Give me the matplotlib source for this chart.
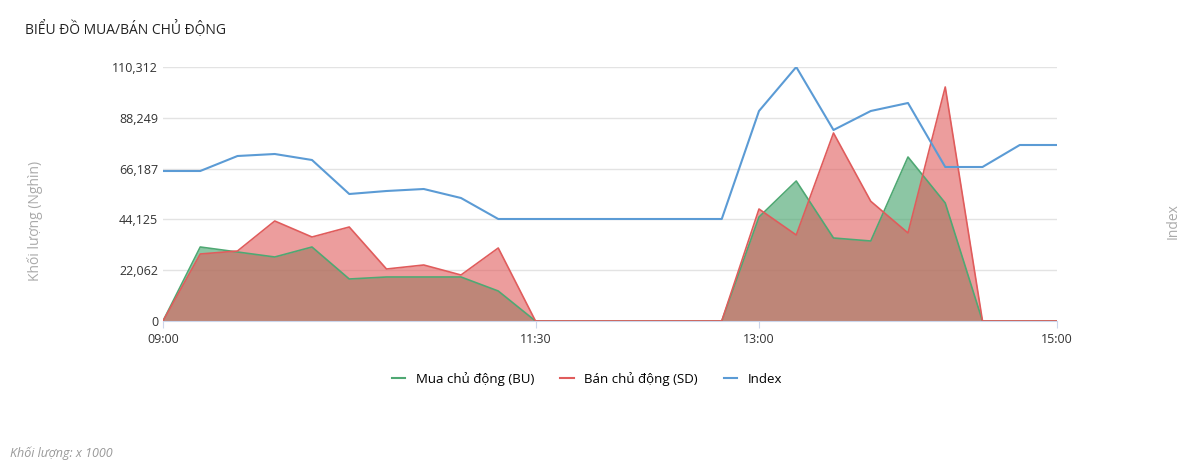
import matplotlib
matplotlib.use("Agg")
import matplotlib.pyplot as plt
import numpy as np

plt.rcParams['font.family'] = ['Open Sans', 'DejaVu Sans']

times = ["09:00","09:15","09:30","09:45","10:00","10:15","10:30","10:45","11:00","11:15","11:30",
         "11:45","12:00","12:15","12:30","12:45","13:00","13:15","13:30","13:45","14:00","14:15",
         "14:30","14:45","15:00"]
bu = [0,32140,29970,27800,32140,18240,19110,19110,19110,13030,0,
      0,0,0,0,0,45170,60800,36050,34740,71230,51250,0,0,0]
sd = [0,29100,30400,43430,36480,40820,22580,24320,19980,31700,0,
      0,0,0,0,0,48640,37350,81650,52000,38220,101630,0,0,0]
index = [1230,1230,1233,1233.4,1232.2,1225.4,1226,1226.4,1224.6,1220.4,1220.4,
         1220.4,1220.4,1220.4,1220.4,1220.4,1242,1250.8,1238.2,1242,1243.6,1230.8,
         1230.8,1235.2,1235.2]
yticks = [0,22062,44125,66187,88249,110312]
xtick_labels = ["09:00","11:30","13:00","15:00"]

def mins(t):
    h, m = t.split(":"); return (int(h)-9)*60+int(m)
x = np.array([mins(t) for t in times])

fig = plt.figure(figsize=(12,4.76), dpi=100)
ax = fig.add_axes([163/1200, 1-321/476, (1057-163)/1200, (321-67)/476])
green, red, blue = '#4fa873', '#e05c5c', '#5b9bd5'
ax.fill_between(x, bu, color=green, alpha=0.65, lw=0, zorder=2)
ax.plot(x, bu, color=green, lw=1.2, zorder=3)
ax.fill_between(x, sd, color=red, alpha=0.6, lw=0, zorder=2)
ax.plot(x, sd, color=red, lw=1.2, zorder=3)
ax.set_ylim(0, 110312)
ax.set_xlim(0, 360)
ax.set_yticks(yticks)
ax.set_yticklabels([f"{v:,}" for v in yticks], fontsize=9, color='#333')
ax.set_xticks([mins(t) for t in xtick_labels])
ax.set_xticklabels(xtick_labels, fontsize=9, color='#333')
ax.grid(axis='y', color='#e3e3e3', lw=1)
ax.set_axisbelow(True)
for s in ['top','right','left']:
    ax.spines[s].set_visible(False)
ax.spines['bottom'].set_color('#ccd6eb')
ax.tick_params(axis='y', length=0)
ax.tick_params(axis='x', length=5, color='#ccd6eb')

ax2 = ax.twinx()
ax2.plot(x, index, color=blue, lw=1.5, zorder=4)
ax2.set_ylim(1200, 1250.8)
ax2.set_yticks([])
for s in ax2.spines.values():
    s.set_visible(False)

fig.text(35/1200, 1-221/476, "Khối lượng (Nghìn)", fontsize=10, color='#aaa', rotation=90, ha='center', va='center')
fig.text(1173/1200, 1-221/476, "Index", fontsize=10, color='#aaa', rotation=90, ha='center', va='center')

from matplotlib.lines import Line2D
handles = [Line2D([],[],color=green,lw=1.5), Line2D([],[],color=red,lw=1.5), Line2D([],[],color=blue,lw=1.5)]
fig.legend(handles, ["Mua chủ động (BU)", "Bán chủ động (SD)", "Index"], loc='center',
           bbox_to_anchor=(587/1200, 1-379/476), ncol=3, frameon=False, fontsize=9.5,
           handlelength=1.0, columnspacing=2.0)
fig.text(25/1200, 1-30/476, "BIỂU ĐỒ MUA/BÁN CHỦ ĐỘNG", fontsize=10, color='#222', va='center')
fig.text(10/1200, 1-453/476, "Khối lượng: x 1000", fontsize=9, color='#999', style='italic', va='center')
fig.savefig("out.png", dpi=100)
